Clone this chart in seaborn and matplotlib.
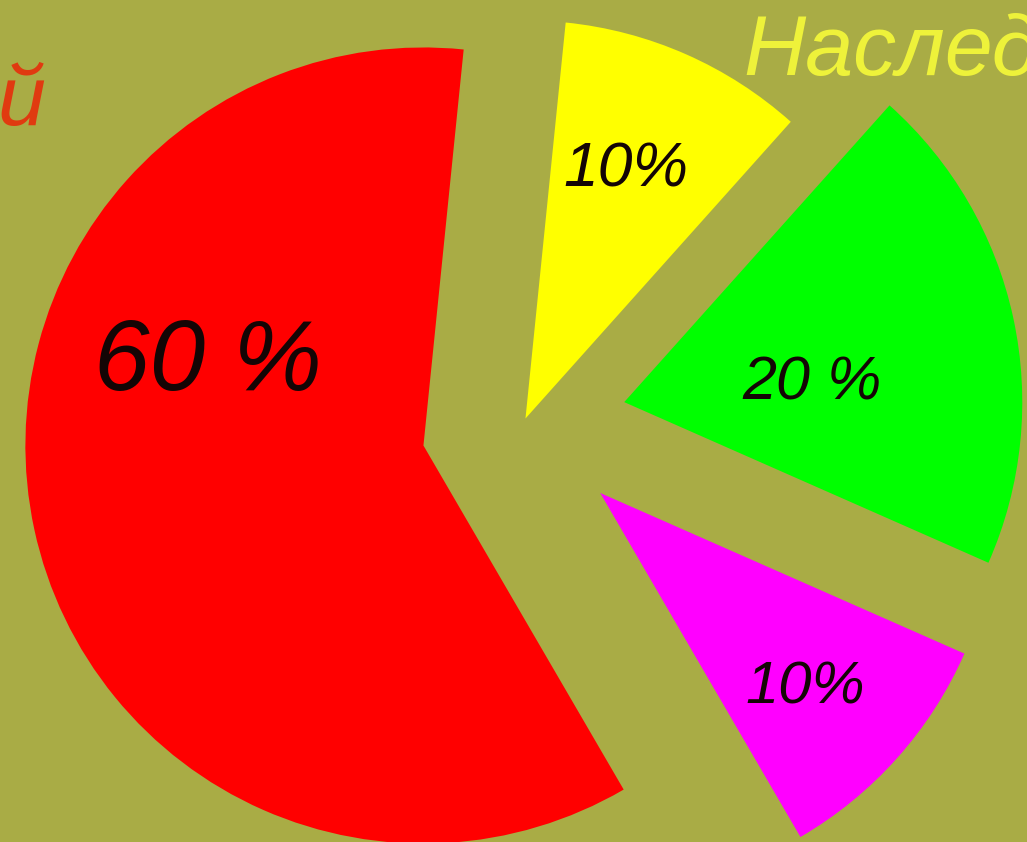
import matplotlib
matplotlib.use("Agg")
import matplotlib.pyplot as plt
import seaborn as sns
import numpy as np

# ---- data ----
shares = [10, 20, 10, 60]                      # yellow, green, magenta, red
pct_labels = ["10%", "20 %", "10%", "60 %"]
slice_colors = ["#FFFF00", "#00FF00", "#FF00FF", "#FF0000"]
title_right = "Наслед"
title_left = "й"

# ---- style / layout ----
sns.set_theme(style="white")
plt.rcParams["font.family"] = ["Liberation Sans", "DejaVu Sans"]
bg = "#A9AC45"

explode = [0.015, 0.26, 0.26, 0.256]
label_dist = [0.674, 0.474, 0.711, 0.579]
label_dtheta = [1.8, -6.8, -1.85, -32.8]
label_sizes = [45, 44, 43, 72]

fig = plt.figure(figsize=(10.27, 8.42), dpi=100, facecolor=bg)
ax = fig.add_axes([0, 0, 1, 1])
ax.set_facecolor(bg)

wedges, _ = ax.pie(shares, colors=slice_colors, explode=explode,
                   startangle=84.2, counterclock=False, radius=1.0,
                   wedgeprops=dict(linewidth=0))
ax.set_xlim(-1.314, 1.266)
ax.set_ylim(-1.050, 1.065)
ax.set_aspect("equal")
ax.axis("off")

for w, lab, d, dt, fs in zip(wedges, pct_labels, label_dist, label_dtheta, label_sizes):
    mid = np.deg2rad((w.theta1 + w.theta2) / 2 + dt)
    cx, cy = w.center
    ax.text(cx + d * w.r * np.cos(mid), cy + d * w.r * np.sin(mid), lab,
            ha="center", va="center", fontsize=fs, style="italic",
            color="#140505")

fig.text(743 / 1027, 1 - 75 / 842, title_right, ha="left", va="baseline",
         fontsize=62, style="italic", color="#EEF23A")
fig.text(45 / 1027, 1 - 125 / 842, title_left, ha="right", va="baseline",
         fontsize=62, style="italic", color="#E03A10")

fig.savefig("out.png", dpi=100, facecolor=bg)
